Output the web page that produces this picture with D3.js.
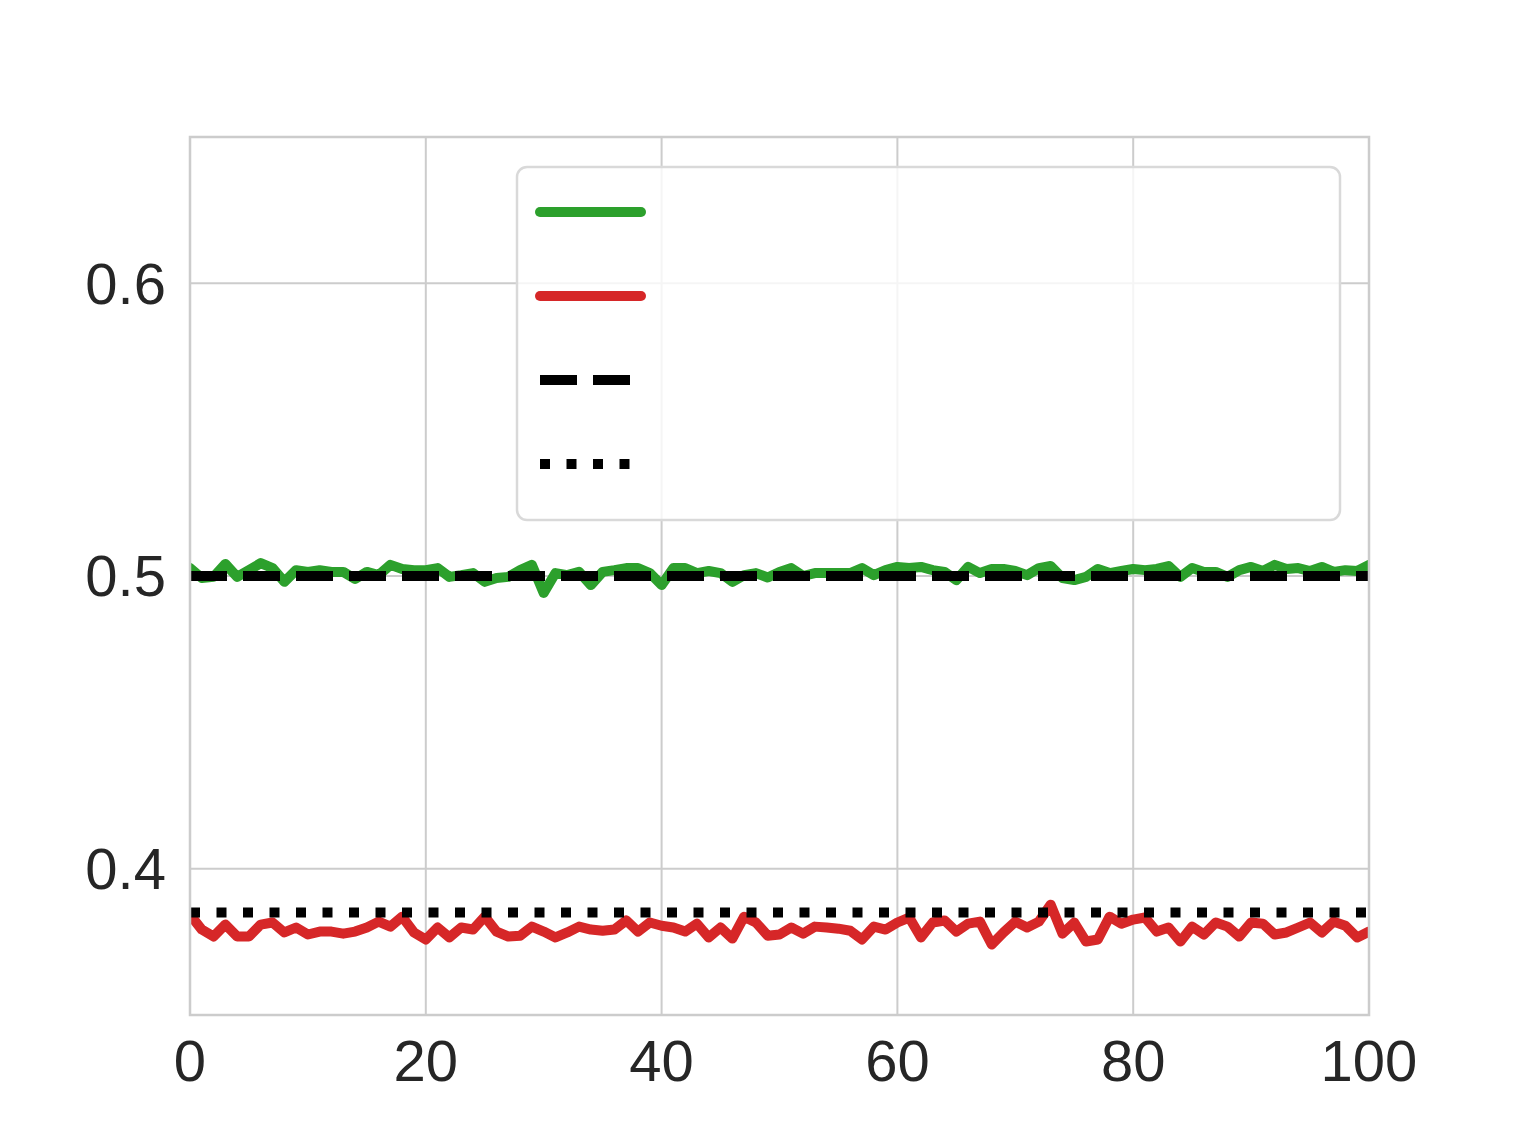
<!DOCTYPE html>
<html>
<head>
<meta charset="utf-8">
<script src="https://cdn.jsdelivr.net/npm/d3@7"></script>
<style>
  html, body { margin: 0; padding: 0; background: #ffffff; }
  svg { display: block; }
</style>
</head>
<body>
<svg id="chart" width="1522" height="1141"></svg>
<script>
// ---- data ----
const greenSeries = [
  0.5027,0.4993,0.4997,0.5041,0.4997,0.5020,0.5044,0.5027,0.4980,0.5020,
  0.5014,0.5020,0.5014,0.5014,0.4990,0.5014,0.5003,0.5038,0.5024,0.5020,
  0.5020,0.5027,0.4997,0.5003,0.5010,0.4980,0.4993,0.4997,0.5020,0.5038,
  0.4942,0.5010,0.5003,0.5014,0.4969,0.5014,0.5020,0.5027,0.5027,0.5010,
  0.4969,0.5027,0.5027,0.5010,0.5017,0.5010,0.4980,0.5003,0.5010,0.4995,
  0.5014,0.5027,0.5000,0.5010,0.5010,0.5010,0.5010,0.5027,0.5003,0.5020,
  0.5031,0.5027,0.5031,0.5020,0.5014,0.4986,0.5031,0.5010,0.5024,0.5024,
  0.5017,0.5003,0.5027,0.5034,0.4993,0.4986,0.4997,0.5024,0.5010,0.5017,
  0.5024,0.5020,0.5024,0.5034,0.4997,0.5027,0.5014,0.5014,0.4997,0.5020,
  0.5031,0.5017,0.5038,0.5024,0.5027,0.5017,0.5031,0.5014,0.5020,0.5017,
  0.5038
];
const redSeries = [
  0.3843,0.3792,0.3768,0.3809,0.3768,0.3768,0.3809,0.3816,0.3782,0.3799,
  0.3775,0.3785,0.3785,0.3778,0.3785,0.3799,0.3819,0.3802,0.3836,0.3782,
  0.3758,0.3799,0.3765,0.3799,0.3792,0.3836,0.3785,0.3768,0.3771,0.3802,
  0.3785,0.3765,0.3782,0.3802,0.3792,0.3788,0.3792,0.3823,0.3785,0.3816,
  0.3805,0.3799,0.3785,0.3812,0.3765,0.3799,0.3761,0.3836,0.3816,0.3771,
  0.3775,0.3799,0.3778,0.3802,0.3799,0.3795,0.3788,0.3758,0.3802,0.3792,
  0.3816,0.3833,0.3765,0.3816,0.3823,0.3785,0.3812,0.3819,0.3741,0.3782,
  0.3819,0.3799,0.3819,0.3877,0.3778,0.3816,0.3751,0.3758,0.3836,0.3812,
  0.3826,0.3833,0.3785,0.3799,0.3751,0.3802,0.3775,0.3816,0.3802,0.3768,
  0.3816,0.3812,0.3775,0.3782,0.3799,0.3816,0.3782,0.3819,0.3805,0.3765,
  0.3785
];
const dashedLevel = 0.5;
const dottedLevel = 0.3850;
const xTicks = [0, 20, 40, 60, 80, 100];
const yTicks = [0.4, 0.5, 0.6];
const legendLabels = ["", "", "", ""];

// ---- layout ----
const svg = d3.select("#chart");
const L = 190, R = 1369, T = 137, B = 1015;
const x = d3.scaleLinear().domain([0, 100]).range([L, R]);
const y = d3.scaleLinear().domain([0.35, 0.65]).range([B, T]);
const gridColor = "#cccccc";
const textColor = "#262626";
const font = "'Liberation Sans', Arial, sans-serif";
const fs = 58;

svg.append("defs").append("clipPath").attr("id", "clip")
  .append("rect").attr("x", L).attr("y", T).attr("width", R - L).attr("height", B - T);

// grid
const grid = svg.append("g");
grid.selectAll(".vg").data(xTicks).join("line")
  .attr("x1", d => x(d)).attr("x2", d => x(d)).attr("y1", T).attr("y2", B)
  .attr("stroke", gridColor).attr("stroke-width", 2);
grid.selectAll(".hg").data(yTicks).join("line")
  .attr("y1", d => y(d)).attr("y2", d => y(d)).attr("x1", L).attr("x2", R)
  .attr("stroke", gridColor).attr("stroke-width", 2);

// lines
const plot = svg.append("g").attr("clip-path", "url(#clip)");
const line = d3.line().x((d, i) => x(i)).y(d => y(d));
plot.append("path").datum(greenSeries).attr("d", line)
  .attr("fill", "none").attr("stroke", "#2ca02c").attr("stroke-width", 10)
  .attr("stroke-linejoin", "round").attr("stroke-linecap", "round");
plot.append("path").datum(redSeries).attr("d", line)
  .attr("fill", "none").attr("stroke", "#d62728").attr("stroke-width", 10)
  .attr("stroke-linejoin", "round").attr("stroke-linecap", "round");
plot.append("line").attr("x1", x(0)).attr("x2", x(100))
  .attr("y1", y(dashedLevel)).attr("y2", y(dashedLevel))
  .attr("stroke", "#000").attr("stroke-width", 10).attr("stroke-dasharray", "37,16");
plot.append("line").attr("x1", x(0)).attr("x2", x(100))
  .attr("y1", y(dottedLevel)).attr("y2", y(dottedLevel))
  .attr("stroke", "#000").attr("stroke-width", 10).attr("stroke-dasharray", "10,16.5");

// legend
const lg = svg.append("g");
lg.append("rect").attr("x", 517).attr("y", 167).attr("width", 823).attr("height", 353)
  .attr("rx", 10).attr("ry", 10)
  .attr("fill", "rgba(255,255,255,0.8)").attr("stroke", "#d9d9d9").attr("stroke-width", 2.5);
const legendItems = [
  {color: "#2ca02c", dash: null, cap: "round"},
  {color: "#d62728", dash: null, cap: "round"},
  {color: "#000", dash: "37,16", cap: "butt"},
  {color: "#000", dash: "10,16.5", cap: "butt"}
];
const legendY = [212, 296, 380, 464];
legendItems.forEach((it, i) => {
  const ln = lg.append("line").attr("x1", 540).attr("x2", it.dash ? 630 : 641)
    .attr("y1", legendY[i]).attr("y2", legendY[i])
    .attr("stroke", it.color).attr("stroke-width", 10).attr("stroke-linecap", it.cap);
  if (it.dash) ln.attr("stroke-dasharray", it.dash);
  lg.append("text").attr("x", 670).attr("y", legendY[i]).attr("dy", "0.35em")
    .attr("font-family", font).attr("font-size", fs).attr("fill", textColor)
    .text(legendLabels[i]);
});

// spines
svg.append("rect").attr("x", L).attr("y", T).attr("width", R - L).attr("height", B - T)
  .attr("fill", "none").attr("stroke", gridColor).attr("stroke-width", 2.5);

// tick labels
svg.append("g").selectAll("text").data(xTicks).join("text")
  .attr("x", d => x(d)).attr("y", 1081).attr("text-anchor", "middle")
  .attr("font-family", font).attr("font-size", fs).attr("fill", textColor)
  .text(d => d3.format("d")(d));
svg.append("g").selectAll("text").data(yTicks).join("text")
  .attr("x", 166).attr("y", d => y(d)).attr("dy", "0.35em").attr("text-anchor", "end")
  .attr("font-family", font).attr("font-size", fs).attr("fill", textColor)
  .text(d => d3.format(".1f")(d));
</script>
</body>
</html>
